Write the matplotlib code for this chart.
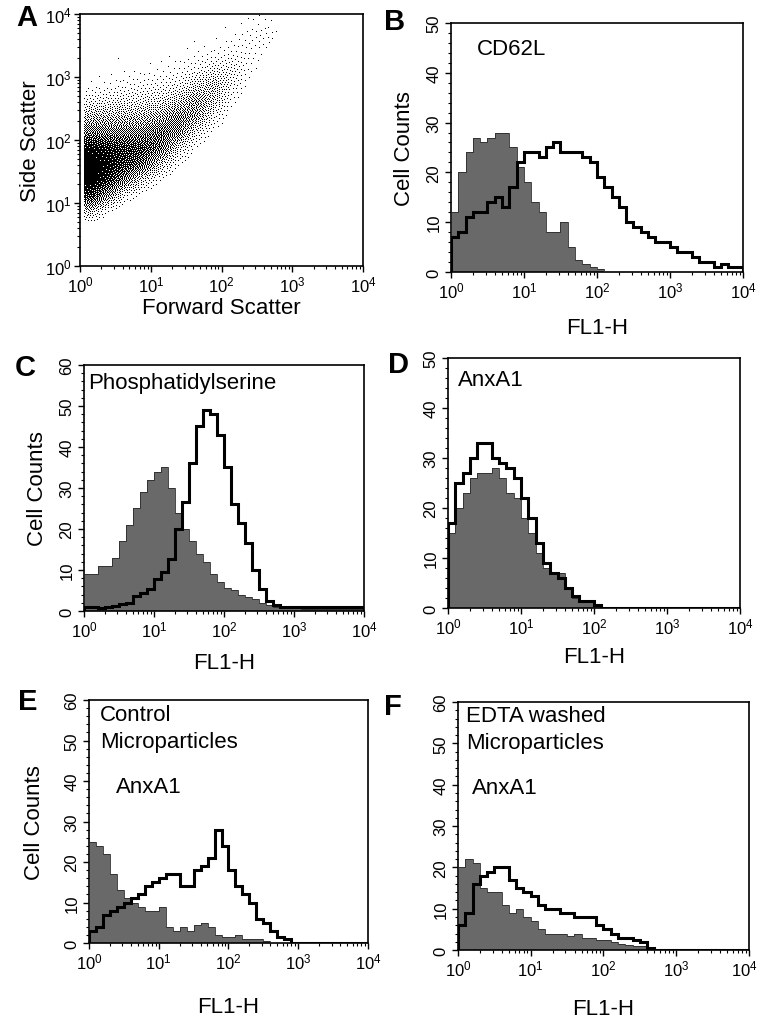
import numpy as np
import matplotlib
matplotlib.use("Agg")
from matplotlib import pyplot as plt
from matplotlib import transforms
from matplotlib.ticker import LogLocator, MultipleLocator, NullFormatter, FixedLocator

plt.rcParams['font.family'] = ['Liberation Sans', 'DejaVu Sans']
plt.rcParams['mathtext.fontset'] = 'custom'
plt.rcParams['mathtext.rm'] = 'Liberation Sans'
plt.rcParams['mathtext.it'] = 'Liberation Sans:italic'
plt.rcParams['mathtext.bf'] = 'Liberation Sans:bold'

# ---------------- data ----------------
# panel A: number of dots, per cell of
# 0.25 decade (log10 forward scatter) x 0.25 decade (log10 side scatter)
fsc_edges = [0.04, 0.25, 0.5, 0.75, 1.0, 1.25, 1.5, 1.75, 2.0, 2.25, 2.5, 2.75]
ssc_edges = [0.75, 1.0, 1.25, 1.5, 1.75, 2.0, 2.25, 2.5, 2.75, 3.0, 3.25, 3.5, 3.75, 4.0]
# rows: side scatter bins bottom -> top, columns: forward scatter bins
scatter_counts = [
    [60, 14, 0, 0, 0, 0, 0, 0, 0, 0, 0],
    [190, 125, 28, 5, 0, 0, 0, 0, 0, 0, 0],
    [240, 240, 140, 55, 10, 0, 0, 0, 0, 0, 0],
    [240, 265, 220, 170, 70, 12, 0, 0, 0, 0, 0],
    [220, 240, 220, 210, 165, 55, 8, 0, 0, 0, 0],
    [130, 140, 140, 140, 165, 140, 42, 6, 0, 0, 0],
    [70, 85, 85, 85, 100, 140, 110, 30, 2, 0, 0],
    [28, 35, 40, 42, 50, 70, 110, 70, 12, 0, 0],
    [5, 8, 14, 16, 20, 28, 55, 78, 30, 4, 0],
    [0, 0, 3, 4, 6, 10, 20, 35, 35, 10, 0],
    [0, 0, 0, 0, 0, 2, 6, 10, 16, 13, 4],
    [0, 0, 0, 0, 0, 0, 0, 1, 4, 10, 14],
    [0, 0, 0, 0, 0, 0, 0, 0, 0, 3, 7],
]

# histograms: 40 channels, 1/10 decade each, from 10^0 to 10^4
b_control = [12, 20, 24, 27, 26, 27, 28, 28, 25, 21, 18, 14, 12, 8, 8, 10, 5, 2.5, 1.5, 1,
             0.5] + [0] * 19
b_stained = [7, 8, 11, 12, 12, 14, 15, 13, 17, 22, 24, 24, 23, 25, 26, 24, 24, 24, 23, 22,
             19, 17, 15, 13, 10, 9, 8, 7, 6, 6, 5, 4, 4, 3, 2, 2, 1, 1.5, 1, 1]

c_control = [9, 9, 11, 11, 13, 17, 21, 25, 29, 32, 34, 35, 30, 24, 20, 17, 14, 12, 9, 7,
             5.5, 5, 4, 3.5, 3, 2, 1.5, 1, 0.8, 0.7, 0.7, 0.6, 0.6, 0.6, 0.6, 0.6, 0.6, 0.6, 0.6, 0.6]
c_stained = [1, 1, 0.8, 1, 1.2, 1.6, 2, 3.7, 4.5, 5.3, 7.7, 9.4, 12.6, 20, 26.5, 36, 45, 49, 48, 43,
             35, 26, 21.5, 16.7, 10, 5.3, 2.5, 1.5, 1, 1, 1, 1, 1, 1, 1, 1, 1, 1, 1, 1]

d_control = [15, 20, 23, 26, 27, 27, 28, 26, 23, 22, 18, 15, 11, 8, 7, 7, 4, 2, 1.5, 1.2,
             0.5] + [0] * 19
d_stained = [17, 25, 27, 30, 33, 33, 30, 29, 28, 26, 22, 18, 13, 9, 7, 6, 4, 2.5, 1.5, 1.5,
             0.7] + [0] * 19

e_control = [25, 24, 22, 17, 13, 11, 10, 9, 8, 8, 9, 4, 3, 4, 3, 4.5, 5, 4, 2, 1.5,
             1.5, 2, 1, 1, 1, 0.5] + [0] * 14
e_stained = [3, 4, 7, 8, 9, 10, 11, 12, 14, 15, 16, 17, 17, 14, 14, 18, 19, 21, 28, 24,
             18, 14, 12, 10, 6, 5, 3, 1.5, 1] + [0] * 11

f_control = [20, 22, 21, 15, 14, 14, 11, 9, 10, 8, 7, 5, 4, 4, 4, 3.5, 4, 3, 3, 2.5,
             2.5, 2, 1.5, 1.2, 1, 1, 0.3] + [0] * 13
f_stained = [6, 9, 16, 18, 19, 20, 20, 17, 15, 14, 13, 11, 10, 10, 9, 9, 8, 8, 8, 6,
             5, 4, 3, 3, 2.5, 2, 0.5] + [0] * 13

decade_ticks = [1, 10, 100, 1000, 10000]
decade_labels = ["$10^{0}$", "$10^{1}$", "$10^{2}$", "$10^{3}$", "$10^{4}$"]

GRAY = '#696969'


def log_axis(axis):
    axis.set_major_locator(FixedLocator(decade_ticks))
    axis.set_minor_locator(LogLocator(base=10, subs=np.arange(2, 10), numticks=20))
    axis.set_minor_formatter(NullFormatter())


def frame(ax):
    for s in ax.spines.values():
        s.set_linewidth(1.2)
        s.set_color('black')
    ax.tick_params(which='major', direction='out', length=4, width=1.0, labelsize=12, pad=2)
    ax.tick_params(which='minor', direction='out', length=2.2, width=0.8)
    ax.tick_params(top=False, right=False)


def scatter_dots(nx=283, ny=252):
    # turn the cell counts into single-pixel dots: smooth the density between
    # cell centres, then error-diffuse it (Floyd-Steinberg) onto the pixel grid
    fe = np.array(fsc_edges)
    se = np.array(ssc_edges)
    counts = np.array(scatter_counts, float)
    area = np.outer(np.diff(se) * ny / 4, np.diff(fe) * nx / 4)
    dens = counts / area
    xc = np.concatenate([(fe[:-1] + fe[1:]) / 2, [fe[-1] + 0.125]])
    yc = np.concatenate([[se[0] - 0.125], (se[:-1] + se[1:]) / 2, [se[-1] + 0.125]])
    dens = np.pad(dens, ((1, 1), (0, 1)))
    lx = (np.arange(nx) + 0.5) / nx * 4
    ly = (np.arange(ny) + 0.5) / ny * 4
    tmp = np.array([np.interp(lx, xc, row) for row in dens])
    fine = np.array([np.interp(ly, yc, tmp[:, j]) for j in range(nx)]).T
    fine[:, lx < fe[0]] = 0
    fine = np.clip(fine, 0, 1)

    err = fine.copy()
    on = np.zeros(fine.shape, bool)
    for i in range(ny):
        cols = range(nx) if i % 2 == 0 else range(nx - 1, -1, -1)
        step = 1 if i % 2 == 0 else -1
        for j in cols:
            old = err[i, j]
            new = 1.0 if old >= 0.5 else 0.0
            on[i, j] = new > 0
            e = old - new
            if 0 <= j + step < nx:
                err[i, j + step] += e * 7 / 16
            if i + 1 < ny:
                if 0 <= j - step < nx:
                    err[i + 1, j - step] += e * 3 / 16
                err[i + 1, j] += e * 5 / 16
                if 0 <= j + step < nx:
                    err[i + 1, j + step] += e * 1 / 16
    iy, ix = np.nonzero(on)
    return 10 ** lx[ix], 10 ** ly[iy]


def scatter_panel(ax):
    xs, ys = scatter_dots()
    ax.plot(xs, ys, ',', color='black')
    ax.set_xscale('log')
    ax.set_yscale('log')
    ax.set_xlim(1, 1e4)
    ax.set_ylim(1, 1e4)
    log_axis(ax.xaxis)
    log_axis(ax.yaxis)
    ax.set_xticklabels(decade_labels)
    ax.set_yticklabels(decade_labels)
    frame(ax)
    ax.set_xlabel("Forward Scatter", fontsize=16, labelpad=2)
    ax.set_ylabel("Side Scatter", fontsize=16, labelpad=3)


def hist_panel(ax, control, stained, ymax):
    edges = 10 ** (np.arange(41) / 10)
    ax.stairs(control, edges, fill=True, color=GRAY, zorder=2)
    ax.stairs(control, edges, color='#2a2a2a', lw=0.6, zorder=3)
    ax.stairs(stained, edges, color='black', lw=2.2, zorder=4)
    ax.set_xscale('log')
    ax.set_xlim(1, 1e4)
    ax.set_ylim(0, ymax)
    log_axis(ax.xaxis)
    ax.set_xticklabels(decade_labels)
    ax.yaxis.set_major_locator(MultipleLocator(10))
    ax.yaxis.set_minor_locator(MultipleLocator(2))
    frame(ax)
    ax.tick_params(axis='y', which='major', labelsize=12, pad=3)
    plt.setp(ax.get_yticklabels(), rotation=90, va='center')


fig = plt.figure(figsize=(7.6, 10.2), dpi=100)

# A
ax_a = fig.add_axes([0.1053, 0.7382, 0.3724, 0.2471])
scatter_panel(ax_a)

# B
ax_b = fig.add_axes([0.5934, 0.7324, 0.3842, 0.2441])
hist_panel(ax_b, b_control, b_stained, 50)
ax_b.set_xlabel("FL1-H", fontsize=16, labelpad=12)
ax_b.set_ylabel("Cell Counts", fontsize=16, labelpad=8)
ax_b.text(0.089, 0.896, "CD62L", transform=ax_b.transAxes, fontsize=16, va='center')

# C
ax_c = fig.add_axes([0.1105, 0.4, 0.3684, 0.2412])
hist_panel(ax_c, c_control, c_stained, 60)
ax_c.set_xlabel("FL1-H", fontsize=16, labelpad=9)
ax_c.set_ylabel("Cell Counts", fontsize=16, labelpad=8)
ax_c.text(0.014, 0.93, "Phosphatidylserine", transform=ax_c.transAxes, fontsize=16, va='center')

# D
ax_d = fig.add_axes([0.5895, 0.4029, 0.3842, 0.2451])
hist_panel(ax_d, d_control, d_stained, 50)
ax_d.set_xlabel("FL1-H", fontsize=16, labelpad=7)
ax_d.text(0.034, 0.916, "AnxA1", transform=ax_d.transAxes, fontsize=16, va='center')

# E
ax_e = fig.add_axes([0.1171, 0.0745, 0.3671, 0.2382])
hist_panel(ax_e, e_control, e_stained, 60)
ax_e.set_xlabel("FL1-H", fontsize=16, labelpad=18)
ax_e.set_ylabel("Cell Counts", fontsize=16, labelpad=14)
ax_e.text(0.039, 0.942, "Control", transform=ax_e.transAxes, fontsize=16, va='center')
ax_e.text(0.039, 0.831, "Microparticles", transform=ax_e.transAxes, fontsize=16, va='center')
ax_e.text(0.097, 0.646, "AnxA1", transform=ax_e.transAxes, fontsize=16, va='center')

# F
ax_f = fig.add_axes([0.6026, 0.0676, 0.3829, 0.2431])
hist_panel(ax_f, f_control, f_stained, 60)
ax_f.set_xlabel("FL1-H", fontsize=16, labelpad=14)
ax_f.text(0.027, 0.944, "EDTA washed", transform=ax_f.transAxes, fontsize=16, va='center')
ax_f.text(0.027, 0.839, "Microparticles", transform=ax_f.transAxes, fontsize=16, va='center')
ax_f.text(0.048, 0.657, "AnxA1", transform=ax_f.transAxes, fontsize=16, va='center')
# keep the last tick label of F inside the figure
last = ax_f.get_xticklabels()[-1]
last.set_transform(last.get_transform() + transforms.ScaledTranslation(-3 / 72, 0, fig.dpi_scale_trans))

# panel letters
letters = ["A", "B", "C", "D", "E", "F"]
letter_pos = [(27, 18), (395, 22), (25, 368), (398, 365), (28, 702), (393, 707)]
for lab, (px, py) in zip(letters, letter_pos):
    fig.text(px / 760, 1 - py / 1020, lab, fontsize=21, fontweight='bold',
             ha='center', va='center')

fig.savefig("out.png", dpi=100)
